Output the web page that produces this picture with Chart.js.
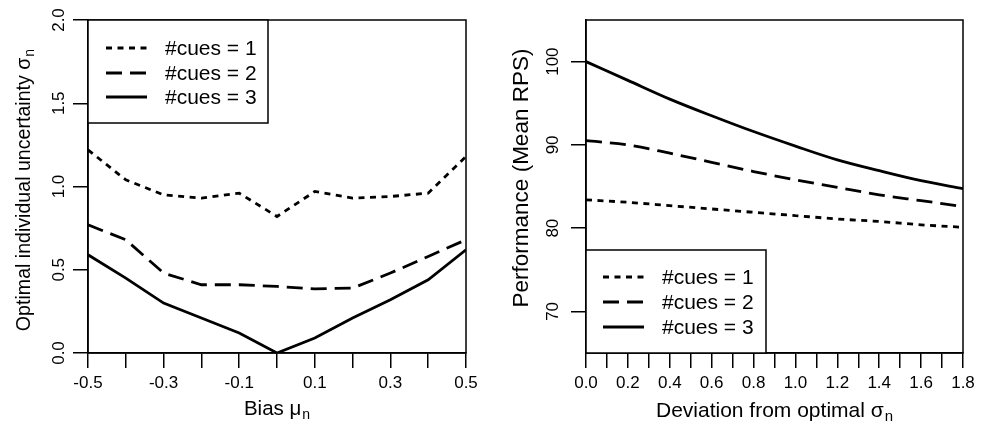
<!DOCTYPE html>
<html>
<head>
<meta charset="utf-8">
<script src="https://cdn.jsdelivr.net/npm/chart.js@4.4.1/dist/chart.umd.min.js"></script>
<style>
  body { margin: 0; background: #fff; }
  #wrap { position: relative; width: 987px; height: 423px; }
  canvas { position: absolute; top: 0; }
</style>
</head>
<body>
<div id="wrap">
  <canvas id="biasChart" width="493" height="423" style="left:0"></canvas>
  <canvas id="devChart" width="494" height="423" style="left:493px"></canvas>
</div>
<script>
// series names shared by both panels
var cueNames = ['#cues = 1', '#cues = 2', '#cues = 3'];

// left panel: optimal sigma vs bias
var biasX = [-0.5, -0.4, -0.3, -0.2, -0.1, 0.0, 0.1, 0.2, 0.3, 0.4, 0.5];
var sigmaCues1 = [1.22, 1.04, 0.95, 0.93, 0.96, 0.82, 0.97, 0.93, 0.94, 0.96, 1.18];
var sigmaCues2 = [0.77, 0.68, 0.48, 0.41, 0.41, 0.40, 0.385, 0.39, 0.48, 0.58, 0.68];
var sigmaCues3 = [0.59, 0.45, 0.30, 0.21, 0.12, 0.0, 0.09, 0.21, 0.32, 0.44, 0.62];

// right panel: performance vs deviation from optimal sigma
var devX = [0.0, 0.2, 0.4, 0.6, 0.8, 1.0, 1.2, 1.4, 1.6, 1.8];
var rpsCues1 = [83.4, 83.1, 82.7, 82.3, 81.9, 81.5, 81.1, 80.8, 80.4, 80.1];
var rpsCues2 = [90.5, 90.0, 89.0, 87.9, 86.8, 85.8, 84.9, 84.0, 83.3, 82.6];
var rpsCues3 = [100.0, 97.75, 95.5, 93.5, 91.6, 89.85, 88.2, 86.9, 85.7, 84.75];
var rpsTicks = [70, 80, 90, 100];

var fam = '"Liberation Sans", Arial, Helvetica, sans-serif';
var dashes = [[6, 5.5], [16, 8], []];

function toPoints(xs, ys) {
    return xs.map(function (x, i) { return { x: x, y: ys[i] }; });
}

function makeSets(xs, list, smooth) {
    return list.map(function (ys, i) {
        return {
            label: cueNames[i],
            data: toPoints(xs, ys),
            borderColor: '#000',
            borderWidth: 2.8,
            borderDash: dashes[i],
            pointRadius: 0,
            fill: false,
            tension: 0,
            cubicInterpolationMode: smooth ? 'monotone' : 'default'
        };
    });
}

// text with an optional subscript, centred on (cx, cy), optionally rotated
function drawSub(ctx, main, sub, cx, cy, rot, size) {
    ctx.save();
    ctx.translate(cx, cy);
    ctx.rotate(rot);
    ctx.textBaseline = 'middle';
    ctx.textAlign = 'left';
    ctx.font = size + 'px ' + fam;
    var w1 = ctx.measureText(main).width;
    var subSize = Math.round(size * 0.7);
    ctx.font = subSize + 'px ' + fam;
    var w2 = sub ? ctx.measureText(sub).width + 1 : 0;
    var start = -(w1 + w2) / 2;
    ctx.font = size + 'px ' + fam;
    ctx.fillText(main, start, 0);
    if (sub) {
        ctx.font = subSize + 'px ' + fam;
        ctx.fillText(sub, start + w1 + 1, size * 0.28);
    }
    ctx.restore();
}

var framePlugin = {
    id: 'frame',
    afterDatasetsDraw: function (chart, args, o) {
        var ctx = chart.ctx, a = chart.chartArea;
        ctx.save();
        ctx.strokeStyle = '#000';
        ctx.lineWidth = 1.5;
        ctx.setLineDash([]);
        ctx.strokeRect(a.left, a.top, a.right - a.left, a.bottom - a.top);

        // rotated y tick labels
        var ys = chart.scales.y;
        ctx.fillStyle = '#000';
        ctx.font = '17px ' + fam;
        ctx.textAlign = 'center';
        ctx.textBaseline = 'middle';
        ys.ticks.forEach(function (t) {
            var p = ys.getPixelForValue(t.value);
            ctx.save();
            ctx.translate(o.yLabelX, p);
            ctx.rotate(-Math.PI / 2);
            ctx.fillText(o.yFmt(t.value), 0, 0);
            ctx.restore();
        });

        // axis titles
        drawSub(ctx, o.xTitle, 'n', (a.left + a.right) / 2, o.xTitleY, 0, o.xSize);
        drawSub(ctx, o.yTitle, o.ySub, o.yTitleX, o.yTitleY, -Math.PI / 2, o.ySize);

        // legend box
        var L = o.legend;
        ctx.fillStyle = '#fff';
        ctx.fillRect(L.x0, L.y0, L.x1 - L.x0, L.y1 - L.y0);
        ctx.strokeRect(L.x0, L.y0, L.x1 - L.x0, L.y1 - L.y0);
        chart.data.datasets.forEach(function (ds, i) {
            var y = L.rows[i];
            ctx.beginPath();
            ctx.setLineDash(ds.borderDash);
            ctx.lineWidth = ds.borderWidth;
            ctx.moveTo(L.s0, y);
            ctx.lineTo(L.s1, y);
            ctx.stroke();
            ctx.setLineDash([]);
            ctx.fillStyle = '#000';
            ctx.font = '21px ' + fam;
            ctx.textAlign = 'left';
            ctx.textBaseline = 'middle';
            ctx.fillText(ds.label, L.tx, y + 1);
        });
        ctx.restore();
    }
};

function xScale(min, max, cb) {
    return {
        type: 'linear',
        min: min,
        max: max,
        ticks: {
            stepSize: 0.1,
            autoSkip: false,
            maxRotation: 0,
            minRotation: 0,
            padding: 5,
            color: '#000',
            font: { family: fam, size: 17 },
            callback: cb
        },
        grid: { drawOnChartArea: false, drawTicks: true, tickLength: 15, color: '#000', lineWidth: 1.5 },
        border: { display: true, color: '#000', width: 1.5 },
        afterFit: function (s) { s.height = 70; }
    };
}

function yScale(min, max, step, width, keep) {
    return {
        type: 'linear',
        min: min,
        max: max,
        ticks: { stepSize: step, display: false },
        grid: { drawOnChartArea: false, drawTicks: true, tickLength: 15, color: '#000', lineWidth: 1.5 },
        border: { display: true, color: '#000', width: 1.5 },
        afterBuildTicks: function (s) {
            if (keep) s.ticks = keep.map(function (v) { return { value: v }; });
        },
        afterFit: function (s) { s.width = width; }
    };
}

new Chart(document.getElementById('biasChart'), {
    type: 'line',
    data: { datasets: makeSets(biasX, [sigmaCues1, sigmaCues2, sigmaCues3], false) },
    options: {
        responsive: false,
        animation: false,
        layout: { padding: { top: 20, right: 27, left: 0, bottom: 0 } },
        scales: {
            x: xScale(-0.5, 0.5, function (v) {
                var r = Math.round(v * 10);
                return r % 2 !== 0 ? (r / 10).toFixed(1) : '';
            }),
            y: yScale(0, 2, 0.5, 88, null)
        },
        plugins: {
            legend: { display: false },
            tooltip: { enabled: false },
            frame: {
                yLabelX: 59,
                yFmt: function (v) { return v.toFixed(1); },
                xTitle: 'Bias \u03bc',
                xTitleY: 409,
                xSize: 20.5,
                yTitle: 'Optimal individual uncertainty \u03c3',
                ySub: 'n',
                ySize: 19.6,
                yTitleX: 25,
                yTitleY: 190,
                legend: { x0: 88, y0: 20, x1: 268, y1: 123, s0: 106, s1: 147, tx: 165, rows: [48, 73, 97] }
            }
        }
    },
    plugins: [framePlugin]
});

new Chart(document.getElementById('devChart'), {
    type: 'line',
    data: { datasets: makeSets(devX, [rpsCues1, rpsCues2, rpsCues3], true) },
    options: {
        responsive: false,
        animation: false,
        layout: { padding: { top: 20, right: 24, left: 0, bottom: 0 } },
        scales: {
            x: xScale(0, 1.8, function (v) {
                var r = Math.round(v * 10);
                return r % 2 === 0 ? (r / 10).toFixed(1) : '';
            }),
            y: yScale(65, 105, 10, 93, rpsTicks)
        },
        plugins: {
            legend: { display: false },
            tooltip: { enabled: false },
            frame: {
                yLabelX: 60,
                yFmt: function (v) { return String(Math.round(v)); },
                xTitle: 'Deviation from optimal \u03c3',
                xTitleY: 411,
                xSize: 21,
                yTitle: 'Performance (Mean RPS)',
                ySub: '',
                ySize: 22.5,
                yTitleX: 29,
                yTitleY: 178,
                legend: { x0: 93, y0: 250, x1: 273, y1: 353, s0: 110, s1: 151, tx: 169, rows: [277, 302, 327] }
            }
        }
    },
    plugins: [framePlugin]
});
</script>
</body>
</html>
